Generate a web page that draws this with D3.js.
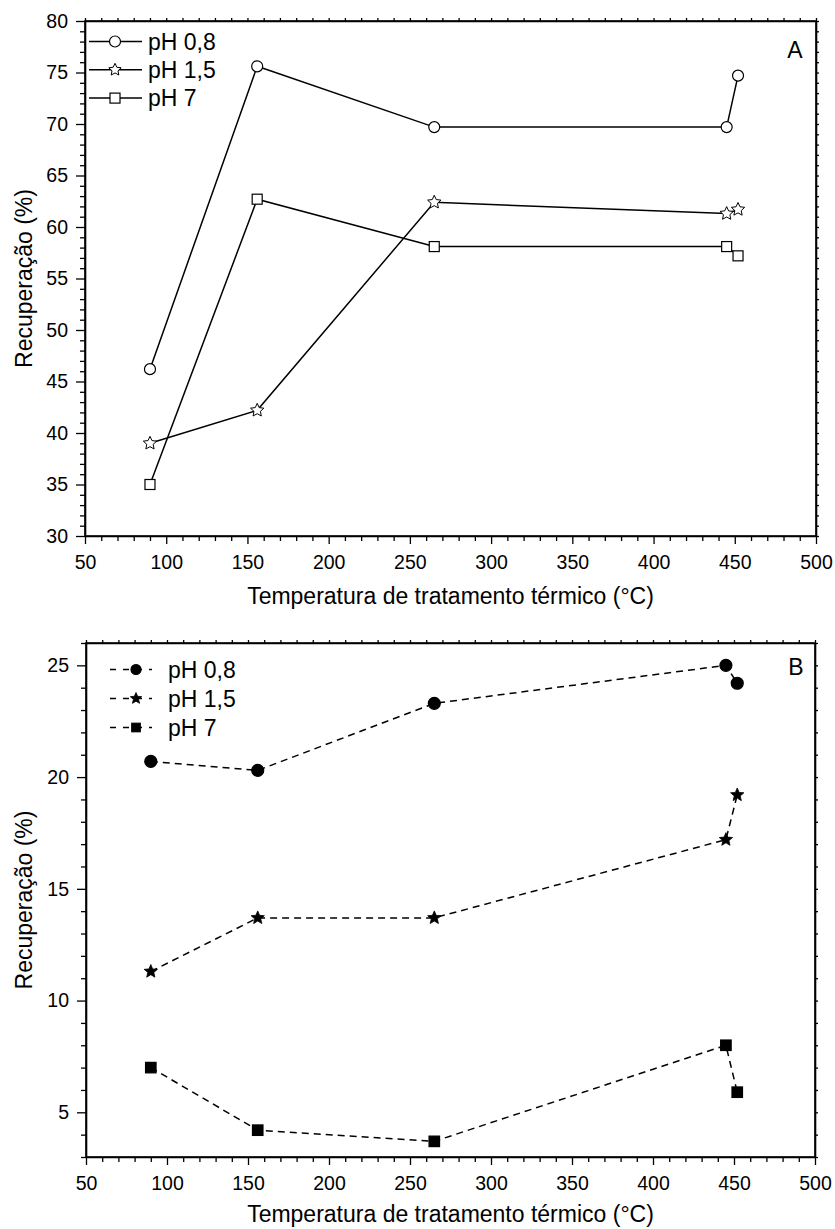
<!DOCTYPE html>
<html>
<head>
<meta charset="utf-8">
<script src="https://cdn.jsdelivr.net/npm/d3@7"></script>
<style>
  html, body { margin: 0; padding: 0; background: #fff; }
  svg { display: block; font-family: "Liberation Sans", Arial, sans-serif; }
</style>
</head>
<body>
<svg id="chart" width="835" height="1229"></svg>
<script>
// ---------- data ----------
const temps = [90, 156, 265, 445, 452];
const seriesNames = ["pH 0,8", "pH 1,5", "pH 7"];
const recA_pH08 = [46.2, 75.6, 69.7, 69.7, 74.7];
const recA_pH15 = [39.0, 42.2, 62.4, 61.3, 61.7];
const recA_pH7  = [35.0, 62.7, 58.1, 58.1, 57.2];
const recB_pH08 = [20.7, 20.3, 23.3, 25.0, 24.2];
const recB_pH15 = [11.3, 13.7, 13.7, 17.2, 19.2];
const recB_pH7  = [7.0, 4.2, 3.7, 8.0, 5.9];
const xTicks  = [50, 100, 150, 200, 250, 300, 350, 400, 450, 500];
const yTicksA = [30, 35, 40, 45, 50, 55, 60, 65, 70, 75, 80];
const yTicksB = [5, 10, 15, 20, 25];
const xTitle = "Temperatura de tratamento térmico (°C)";
const yTitle = "Recuperação (%)";
const panelLabels = ["A", "B"];

const svg = d3.select("#chart");

function starPath(R, ratio) {
  const pts = [];
  for (let i = 0; i < 10; i++) {
    const r = i % 2 === 0 ? R : R * ratio;
    const a = -Math.PI / 2 + i * Math.PI / 5;
    pts.push([r * Math.cos(a), r * Math.sin(a)]);
  }
  return "M" + pts.map(p => p[0].toFixed(2) + "," + p[1].toFixed(2)).join("L") + "Z";
}

function drawMarker(g, shape, x, y, filled, sz) {
  const fill = filled ? "#000" : "#fff";
  if (shape === "circle") {
    g.append("circle").attr("cx", x).attr("cy", y).attr("r", sz.r)
      .attr("fill", fill).attr("stroke", "#000").attr("stroke-width", 1.2);
  } else if (shape === "square") {
    g.append("rect").attr("x", x - sz.s / 2).attr("y", y - sz.s / 2)
      .attr("width", sz.s).attr("height", sz.s)
      .attr("fill", fill).attr("stroke", "#000").attr("stroke-width", 1.2);
  } else {
    g.append("path").attr("d", starPath(sz.R, filled ? 0.45 : 0.48))
      .attr("transform", `translate(${x},${y})`)
      .attr("fill", fill).attr("stroke", "#000").attr("stroke-width", filled ? 0.8 : 1);
  }
}

function panel(cfg) {
  const x = d3.scaleLinear().domain([50, 500]).range([cfg.left, cfg.right]);
  const y = d3.scaleLinear().domain(cfg.yDomain).range([cfg.bottom, cfg.top]);
  const g = svg.append("g");

  const minorX = d3.range(50, 501, 10).filter(v => v % 50 !== 0);
  const allX = d3.range(50, 501, 10);
  const minorY = d3.range(Math.ceil(cfg.yDomain[0]), cfg.yDomain[1] + 0.001, 1).filter(v => v % 5 !== 0);
  const allY = d3.range(Math.ceil(cfg.yDomain[0]), cfg.yDomain[1] + 0.001, 1);

  // bottom axis
  g.append("g").attr("transform", `translate(0,${cfg.bottom})`)
    .call(d3.axisBottom(x).tickValues(xTicks).tickSize(8).tickPadding(11).tickSizeOuter(0).tickFormat(d3.format("d")));
  g.append("g").attr("transform", `translate(0,${cfg.bottom})`)
    .call(d3.axisBottom(x).tickValues(minorX).tickSize(5).tickSizeOuter(0).tickFormat(""))
    .select(".domain").remove();
  // left axis
  g.append("g").attr("transform", `translate(${cfg.left},0)`)
    .call(d3.axisLeft(y).tickValues(cfg.yTicks).tickSize(9).tickPadding(8).tickSizeOuter(0).tickFormat(d3.format("d")));
  g.append("g").attr("transform", `translate(${cfg.left},0)`)
    .call(d3.axisLeft(y).tickValues(minorY).tickSize(5).tickSizeOuter(0).tickFormat(""))
    .select(".domain").remove();
  // top and right small ticks
  g.append("g").attr("transform", `translate(0,${cfg.top})`)
    .call(d3.axisTop(x).tickValues(allX).tickSize(3).tickSizeOuter(0).tickFormat(""));
  g.append("g").attr("transform", `translate(${cfg.right},0)`)
    .call(d3.axisRight(y).tickValues(allY).tickSize(3).tickSizeOuter(0).tickFormat(""));

  g.selectAll(".domain").attr("stroke", "#000").attr("stroke-width", 1.6);
  g.selectAll(".tick line").attr("stroke", "#000").attr("stroke-width", 1.3);
  g.selectAll(".tick text").attr("font-size", 19.5).attr("fill", "#000")
    .attr("font-family", "'Liberation Sans', Arial, sans-serif");
  g.append("rect").attr("x", cfg.left).attr("y", cfg.top)
    .attr("width", cfg.right - cfg.left).attr("height", cfg.bottom - cfg.top)
    .attr("fill", "none").attr("stroke", "#000").attr("stroke-width", 1.6);

  // titles
  g.append("text").attr("x", (cfg.left + cfg.right) / 2).attr("y", cfg.xTitleY)
    .attr("text-anchor", "middle").attr("dy", "0.35em").attr("font-size", 23).text(xTitle);
  g.append("text").attr("transform", `translate(${cfg.yTitleX},${(cfg.top + cfg.bottom) / 2}) rotate(-90)`)
    .attr("text-anchor", "middle").attr("dy", "0.35em").attr("font-size", 23).text(yTitle);
  g.append("text").attr("x", cfg.labelX).attr("y", cfg.labelY)
    .attr("text-anchor", "middle").attr("dy", "0.35em").attr("font-size", 23).text(cfg.label);

  // series
  const line = d3.line().x((d, i) => x(temps[i])).y(d => y(d));
  const shapes = ["circle", "star", "square"];
  cfg.series.forEach((vals) => {
    g.append("path").datum(vals).attr("d", line).attr("fill", "none")
      .attr("stroke", "#000").attr("stroke-width", 1.5)
      .attr("stroke-dasharray", cfg.dash || null);
  });
  cfg.series.forEach((vals, k) => {
    vals.forEach((v, i) => drawMarker(g, shapes[k], x(temps[i]), y(v), cfg.filled, cfg.markerSize));
  });

  // legend
  seriesNames.forEach((name, k) => {
    const ry = cfg.legendY0 + k * cfg.legendDy;
    g.append("line").attr("x1", cfg.legX1).attr("x2", cfg.legX2).attr("y1", ry).attr("y2", ry)
      .attr("stroke", "#000").attr("stroke-width", 1.5).attr("stroke-dasharray", cfg.legDash || null);
    drawMarker(g, shapes[k], cfg.legMX, ry, cfg.filled, cfg.legMarkerSize);
    g.append("text").attr("x", cfg.legTX).attr("y", ry).attr("dy", "0.35em")
      .attr("font-size", 23).text(name);
  });
}

panel({
  left: 85, right: 816, top: 21, bottom: 536,
  yDomain: [30, 80], yTicks: yTicksA,
  series: [recA_pH08, recA_pH15, recA_pH7],
  filled: false, dash: null,
  markerSize: { r: 5.5, s: 10, R: 7 },
  legMarkerSize: { r: 5.5, s: 10, R: 6.5 },
  xTitleY: 596, yTitleX: 24, label: panelLabels[0], labelX: 795, labelY: 50,
  legendY0: 41.5, legendDy: 28.3, legX1: 89, legX2: 142, legMX: 115, legTX: 148
});

panel({
  left: 86, right: 815, top: 643, bottom: 1157,
  yDomain: [3, 26], yTicks: yTicksB,
  series: [recB_pH08, recB_pH15, recB_pH7],
  filled: true, dash: "7,5",
  markerSize: { r: 6, s: 10.5, R: 7 },
  legMarkerSize: { r: 5, s: 8.5, R: 6 },
  xTitleY: 1214, yTitleX: 24, label: panelLabels[1], labelX: 796, labelY: 667,
  legendY0: 669.5, legendDy: 29, legX1: 110, legX2: 152, legMX: 136, legTX: 168, legDash: "6,7"
});
</script>
</body>
</html>
